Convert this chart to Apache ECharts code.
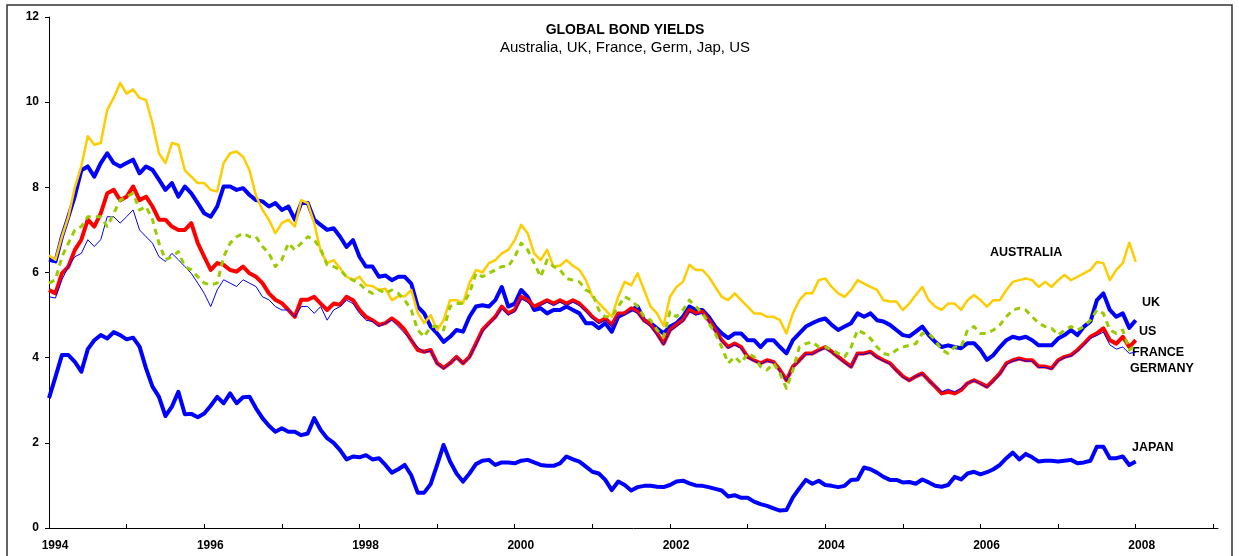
<!DOCTYPE html>
<html>
<head>
<meta charset="utf-8">
<script src="https://cdn.jsdelivr.net/npm/echarts@6/dist/echarts.min.js"></script>
<style>
html,body{margin:0;padding:0;background:#fff;}
#chart{width:1239px;height:556px;}
</style>
</head>
<body>
<div id="chart"></div>
<script>
// monthly readings, Jan 1994 .. Jan 2008
var australia=[6.40,6.30,6.84,7.31,8.00,8.50,9.20,9.00,9.04,9.82,10.10,10.45,
10.20,10.30,10.10,10.05,9.50,8.80,8.57,9.04,9.00,8.40,8.25,8.10,
8.10,7.94,7.90,8.57,8.80,8.84,8.72,8.40,7.80,7.47,7.24,6.92,
7.16,7.24,7.08,7.70,7.63,7.16,6.50,6.22,6.29,6.10,5.90,5.82,
5.90,5.70,5.68,5.59,5.62,5.35,5.44,5.44,5.59,5.05,4.81,5.00,
4.65,4.88,5.35,5.35,5.28,5.75,6.06,6.00,6.22,6.29,6.45,6.53,
6.76,7.12,6.92,6.45,6.29,6.53,6.14,6.16,6.29,6.16,6.06,5.82,
5.43,5.28,5.12,4.96,5.43,5.78,5.70,5.98,5.59,5.20,5.04,4.75,
5.43,5.66,5.78,6.18,6.06,6.06,5.90,5.66,5.43,5.35,5.51,5.35,
5.20,5.04,5.04,4.96,4.96,4.88,4.57,5.04,5.35,5.51,5.51,5.82,
5.86,5.66,5.51,5.43,5.59,5.82,5.74,5.66,5.59,5.35,5.32,5.32,
5.12,5.27,5.47,5.66,5.35,5.20,5.12,5.27,5.27,5.12,5.35,5.47,
5.35,5.20,5.35,5.35,5.59,5.78,5.82,5.86,5.82,5.66,5.78,5.66,
5.82,5.94,5.82,5.90,5.98,6.06,6.25,6.22,5.82,6.06,6.22,6.70,6.25];

var uk=[6.30,6.26,6.84,7.31,7.80,8.40,8.49,8.25,8.57,8.80,8.57,8.49,
8.57,8.65,8.33,8.49,8.41,8.18,7.94,8.10,7.78,8.02,7.86,7.63,
7.39,7.31,7.55,8.02,8.02,7.94,7.98,7.82,7.70,7.67,7.55,7.63,
7.47,7.55,7.24,7.63,7.63,7.24,7.12,7.00,7.04,6.84,6.60,6.76,
6.37,6.14,6.14,5.90,5.93,5.82,5.90,5.90,5.74,5.20,5.04,4.73,
4.57,4.37,4.49,4.65,4.61,4.96,5.20,5.23,5.20,5.35,5.66,5.20,
5.27,5.59,5.43,5.12,5.16,5.04,5.12,5.12,5.20,5.12,5.04,4.81,
4.81,4.69,4.81,4.61,4.96,5.04,5.12,5.20,4.88,4.81,4.69,4.57,
4.73,4.81,4.96,5.20,5.12,5.12,4.96,4.73,4.57,4.46,4.57,4.57,
4.41,4.41,4.25,4.41,4.41,4.25,4.10,4.41,4.57,4.73,4.81,4.88,
4.92,4.77,4.65,4.73,4.81,5.04,4.96,5.04,4.88,4.85,4.77,4.65,
4.53,4.50,4.61,4.73,4.53,4.37,4.25,4.29,4.25,4.22,4.34,4.34,
4.18,3.95,4.06,4.25,4.41,4.49,4.45,4.49,4.41,4.29,4.29,4.29,
4.45,4.53,4.65,4.53,4.73,4.85,5.35,5.51,5.12,4.96,5.04,4.70,4.88];

var france=[5.59,5.51,5.98,6.14,6.53,6.77,7.24,7.08,7.39,7.86,7.94,7.70,
7.78,8.02,7.70,7.78,7.55,7.24,7.24,7.08,7.00,7.00,7.16,6.69,
6.37,6.06,6.22,6.18,6.06,6.02,6.14,5.98,5.90,5.75,5.51,5.36,
5.28,5.12,4.96,5.36,5.36,5.43,5.27,5.12,5.27,5.24,5.43,5.35,
5.12,4.96,4.88,4.77,4.81,4.92,4.81,4.65,4.41,4.18,4.14,4.18,
3.87,3.76,3.87,4.02,3.87,4.02,4.33,4.65,4.81,4.96,5.20,5.04,
5.12,5.43,5.35,5.20,5.27,5.35,5.27,5.35,5.27,5.35,5.27,5.12,
4.96,4.84,4.92,4.77,5.04,5.04,5.16,5.08,4.88,4.77,4.57,4.33,
4.65,4.77,4.88,5.12,5.04,5.08,4.88,4.65,4.41,4.25,4.33,4.25,
4.02,3.94,3.87,3.94,3.90,3.71,3.47,3.79,3.94,4.10,4.10,4.18,
4.25,4.14,4.02,3.90,3.79,4.10,4.10,4.14,4.02,3.94,3.87,3.71,
3.56,3.47,3.56,3.63,3.47,3.32,3.16,3.20,3.16,3.24,3.40,3.47,
3.40,3.32,3.47,3.63,3.87,3.94,3.98,3.94,3.94,3.79,3.79,3.75,
3.94,4.02,4.06,4.18,4.33,4.49,4.57,4.69,4.41,4.33,4.49,4.25,4.41];

var germany=[5.43,5.40,5.83,6.14,6.37,6.45,6.77,6.61,6.77,7.31,7.31,7.16,
7.31,7.47,7.00,6.84,6.69,6.37,6.26,6.45,6.30,6.14,5.98,5.75,
5.51,5.20,5.59,5.83,5.75,5.67,5.83,5.75,5.67,5.43,5.36,5.20,
5.12,5.12,4.96,5.20,5.20,5.04,5.20,4.88,5.12,5.20,5.35,5.27,
5.04,4.88,4.85,4.73,4.81,4.88,4.73,4.57,4.41,4.25,4.12,4.16,
3.85,3.74,3.86,4.00,3.86,4.00,4.30,4.60,4.78,4.93,5.15,5.00,
5.08,5.38,5.30,5.14,5.22,5.30,5.22,5.30,5.22,5.30,5.22,5.08,
4.92,4.80,4.88,4.73,5.00,5.00,5.12,5.04,4.85,4.73,4.53,4.30,
4.62,4.73,4.85,5.08,5.00,5.04,4.85,4.62,4.38,4.22,4.30,4.22,
4.00,3.92,3.85,3.92,3.88,3.69,3.46,3.77,3.92,4.08,4.08,4.16,
4.22,4.12,4.00,3.88,3.77,4.08,4.08,4.12,4.00,3.92,3.85,3.69,
3.54,3.46,3.56,3.62,3.46,3.33,3.20,3.26,3.20,3.28,3.40,3.46,
3.38,3.30,3.45,3.60,3.84,3.92,3.96,3.92,3.92,3.77,3.77,3.73,
3.92,4.00,4.04,4.15,4.30,4.45,4.52,4.60,4.30,4.20,4.25,4.10,4.13];

var us=[5.75,5.83,6.37,6.69,7.00,7.08,7.31,7.31,7.31,7.08,7.39,7.70,
7.78,7.86,7.47,7.55,7.24,6.69,6.30,6.37,6.49,6.14,6.06,5.90,
5.75,5.71,5.75,6.37,6.69,6.84,6.92,6.84,6.84,6.61,6.45,6.14,
6.30,6.69,6.53,6.69,6.84,6.77,6.55,6.18,6.14,6.06,5.90,5.82,
5.74,5.59,5.51,5.59,5.51,5.59,5.51,5.35,5.12,4.65,4.49,4.73,
4.73,4.65,5.20,5.27,5.27,5.51,5.98,5.90,5.98,6.06,6.14,6.14,
6.37,6.69,6.53,6.22,5.90,6.29,6.14,6.06,5.86,5.82,5.78,5.59,
5.51,5.12,4.96,4.96,5.20,5.43,5.35,5.20,4.96,4.88,4.65,4.49,
5.08,4.96,5.12,5.35,5.20,5.04,4.81,4.57,4.25,3.87,4.02,3.87,
4.10,4.02,3.79,3.71,3.87,3.63,3.28,3.71,4.25,4.33,4.37,4.25,
4.25,4.18,4.10,4.02,4.25,4.65,4.57,4.45,4.25,4.10,4.06,4.18,
4.25,4.29,4.33,4.57,4.57,4.41,4.18,4.10,4.25,4.25,4.65,4.73,
4.57,4.57,4.65,4.77,4.96,5.12,5.16,5.12,4.96,4.81,4.73,4.69,
4.53,4.65,4.73,4.65,4.73,4.88,5.12,5.04,4.65,4.57,4.65,4.18,4.30];

var japan=[3.05,3.55,4.06,4.06,3.90,3.67,4.20,4.41,4.53,4.45,4.60,4.53,
4.43,4.47,4.26,3.75,3.32,3.08,2.63,2.85,3.20,2.67,2.68,2.60,
2.69,2.87,3.08,2.93,3.16,2.93,3.07,3.08,2.81,2.58,2.40,2.26,
2.34,2.26,2.26,2.18,2.22,2.58,2.30,2.11,2.00,1.83,1.61,1.68,
1.66,1.71,1.61,1.64,1.48,1.30,1.38,1.48,1.24,0.83,0.83,1.03,
1.48,1.95,1.56,1.28,1.09,1.28,1.50,1.58,1.60,1.48,1.54,1.54,
1.52,1.58,1.60,1.54,1.48,1.46,1.46,1.52,1.68,1.61,1.56,1.44,
1.32,1.28,1.13,0.89,1.09,1.01,0.88,0.96,0.99,0.99,0.97,0.96,
1.01,1.09,1.11,1.05,1.00,0.99,0.96,0.92,0.88,0.74,0.77,0.71,
0.71,0.62,0.56,0.52,0.46,0.41,0.42,0.72,0.93,1.13,1.04,1.11,
1.01,0.99,0.96,0.99,1.13,1.14,1.42,1.38,1.30,1.20,1.13,1.13,
1.07,1.08,1.04,1.14,1.07,0.99,0.97,1.01,1.20,1.14,1.28,1.32,
1.26,1.31,1.38,1.48,1.64,1.77,1.61,1.74,1.66,1.56,1.58,1.58,
1.56,1.58,1.60,1.52,1.54,1.58,1.91,1.91,1.64,1.64,1.68,1.48,1.56];

var yearTicks=[1994,1995,1996,1997,1998,1999,2000,2001,2002,2003,2004,2005,2006,2007,2008,2009];
var yearLabels=[1994,1996,1998,2000,2002,2004,2006,2008];

// month positions on the year axis
var months=[];
for(var i=0;i<australia.length;i++){
  months[i]=1994+i/12;
}
function pairs(vals){
  var out=[];
  for(var i=0;i<vals.length;i++){ out.push([months[i],vals[i]]); }
  return out;
}

var FONT='"Liberation Sans", Arial, sans-serif';
var myChart=echarts.init(document.getElementById('chart'),null,{renderer:'canvas'});

function lineSeries(name,vals,color,width,type){
  return {
    name:name,
    type:'line',
    data:pairs(vals),
    showSymbol:false,
    symbol:'none',
    lineStyle:{color:color,width:width,type:type||'solid',cap:'butt',join:'round'},
    itemStyle:{color:color},
    emphasis:{disabled:true},
    z:2
  };
}

var option={
  backgroundColor:'#fff',
  animation:false,
  grid:{left:49,right:21,top:17,bottom:28,containLabel:false},
  xAxis:{
    type:'value',
    min:1994,
    max:2009.06,
    axisLine:{show:true,onZero:false,lineStyle:{color:'#000',width:1}},
    axisTick:{show:true,inside:true,length:4,customValues:yearTicks,lineStyle:{color:'#000'}},
    axisLabel:{
      customValues:yearLabels,
      color:'#000',
      fontFamily:FONT,
      fontWeight:'bold',
      fontSize:12,
      margin:12,
      padding:[0,0,0,12],
      formatter:function(v){return String(Math.round(v));}
    },
    splitLine:{show:false}
  },
  yAxis:{
    type:'value',
    min:0,
    max:12,
    interval:2,
    axisLine:{show:true,lineStyle:{color:'#000',width:1}},
    axisTick:{show:true,inside:false,length:4,lineStyle:{color:'#000'}},
    axisLabel:{color:'#000',fontFamily:FONT,fontWeight:'bold',fontSize:12,margin:10},
    splitLine:{show:false}
  },
  series:[
    lineSeries('Japan',japan,'#0000FF',4),
    lineSeries('UK',uk,'#0000FF',4),
    lineSeries('France',france,'#FF0000',4),
    lineSeries('Germany',germany,'#0000FF',1),
    lineSeries('Australia',australia,'#FFCC00',2.5),
    lineSeries('US',us,'#99CC00',3,[6,5])
  ],
  graphic:[
    {type:'rect',shape:{x:7,y:5,width:1225,height:570},style:{fill:null,stroke:'#333',lineWidth:1.5},silent:true,z:-1},
    {type:'text',x:625,y:30,style:{text:'GLOBAL BOND YIELDS',font:'bold 14px '+FONT,fill:'#000',align:'center',verticalAlign:'middle'}},
    {type:'text',x:625,y:48,style:{text:'Australia, UK, France, Germ, Jap, US',font:'15px '+FONT,fill:'#000',align:'center',verticalAlign:'middle'}},
    {type:'text',x:990,y:253,style:{text:'AUSTRALIA',font:'bold 12.5px '+FONT,fill:'#000',align:'left',verticalAlign:'middle'}},
    {type:'text',x:1142,y:303,style:{text:'UK',font:'bold 12.5px '+FONT,fill:'#000',align:'left',verticalAlign:'middle'}},
    {type:'text',x:1139,y:332,style:{text:'US',font:'bold 12.5px '+FONT,fill:'#000',align:'left',verticalAlign:'middle'}},
    {type:'text',x:1132,y:353,style:{text:'FRANCE',font:'bold 12.5px '+FONT,fill:'#000',align:'left',verticalAlign:'middle'}},
    {type:'text',x:1130,y:369,style:{text:'GERMANY',font:'bold 12.5px '+FONT,fill:'#000',align:'left',verticalAlign:'middle'}},
    {type:'text',x:1132,y:448,style:{text:'JAPAN',font:'bold 12.5px '+FONT,fill:'#000',align:'left',verticalAlign:'middle'}}
  ]
};

myChart.setOption(option);
</script>
</body>
</html>
